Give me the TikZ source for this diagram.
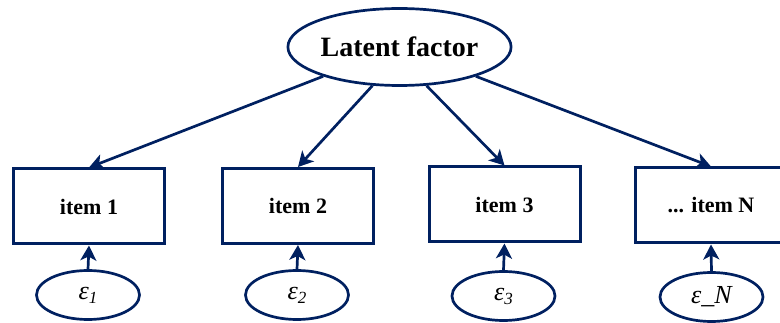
\documentclass[tikz,border=0pt]{standalone}
\usepackage{fontspec}
\setmainfont{Liberation Serif}
\usetikzlibrary{shapes.geometric,arrows.meta}
\definecolor{navy}{RGB}{0,32,96}
\begin{document}
\begin{tikzpicture}[x=1pt,y=-1pt,
  itembox/.style={draw=navy,line width=3pt,minimum width=151pt,minimum height=75pt,inner sep=0pt,font=\fontsize{22}{24}\selectfont\bfseries},
  errell/.style={ellipse,draw=navy,line width=2.7pt,minimum width=103pt,minimum height=49pt,inner sep=0pt,font=\fontsize{26}{28}\selectfont\itshape},
  latell/.style={ellipse,draw=navy,line width=2.7pt,minimum width=204pt,minimum height=77pt,inner sep=0pt,font=\fontsize{28}{30}\selectfont\bfseries},
  conn/.style={draw=navy,line width=2.7pt,-{Stealth[length=15pt,width=16pt,inset=4pt]}}]
\useasboundingbox (0,0) rectangle (780,323);
\node[latell] (L) at (399.5,47) {Latent factor};
\node[itembox] (i1) at (89,206.5) {item 1};
\node[itembox] (i2) at (298,206) {item 2};
\node[itembox] (i3) at (504.5,204.5) {item 3};
\node[itembox] (iN) at (711,205.5) {... item N};
\newcommand{\esub}[1]{ε\raisebox{-4pt}{\fontsize{17}{18}\selectfont #1}}
\node[errell] (e1) at (88,295) {\esub{1}};
\node[errell] (e2) at (297,295) {\esub{2}};
\node[errell] (e3) at (503.5,296) {\esub{3}};
\node[errell] (eN) at (711.5,297) {ε\_N};
\draw[conn] (L.201) -- (i1.north);
\draw[conn] (L.235) -- (i2.north);
\draw[conn] (L.305) -- (i3.north);
\draw[conn] (L.339) -- (iN.north);
\draw[conn] (e1.north) -- (i1.south);
\draw[conn] (e2.north) -- (i2.south);
\draw[conn] (e3.north) -- (i3.south);
\draw[conn] (eN.north) -- (iN.south);
\end{tikzpicture}
\end{document}
